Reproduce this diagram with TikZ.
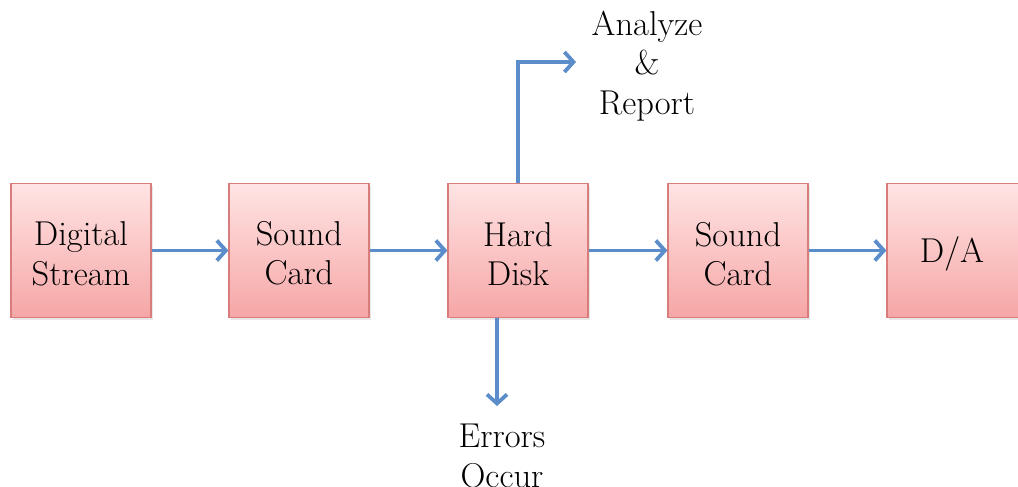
\documentclass[tikz,border=0pt]{standalone}
\usetikzlibrary{arrows.meta,shadows}
\definecolor{boxtop}{HTML}{FFE4E4}
\definecolor{boxbot}{HTML}{F6A6A6}
\definecolor{boxline}{HTML}{D87C7C}
\definecolor{arrowblue}{HTML}{5A8DC9}
\tikzset{
  blockbox/.style={rectangle, draw=boxline, line width=1.2pt, top color=boxtop, bottom color=boxbot,
    minimum width=140pt, minimum height=134pt, inner sep=0pt,
    drop shadow={opacity=0.18, shadow xshift=1.5pt, shadow yshift=-2pt}},
  flow/.style={draw=arrowblue, line width=3.8pt,
    -{Straight Barb[length=9pt, width=20pt, line width=3.8pt]}},
  lbl/.style={align=center, font=\fontsize{34.5}{39.5}\selectfont, inner sep=0pt}
}
\begin{document}
\begin{tikzpicture}[x=1pt, y=-1pt]
\useasboundingbox (0,0) rectangle (1018,487);
\clip (0,0) rectangle (1018,487);
\node[blockbox] (b1) at (81,250.5) {};
\node[blockbox] (b2) at (299,250.5) {};
\node[blockbox] (b3) at (518,250.5) {};
\node[blockbox] (b4) at (738,250.5) {};
\node[blockbox] (b5) at (957,250.5) {};
\node[lbl] (t1) at (81,254) {Digital\\Stream};
\node[lbl] (t2) at (299,253) {Sound\\Card};
\node[lbl] (t3) at (518,254) {Hard\\Disk};
\node[lbl] (t4) at (738,254) {Sound\\Card};
\node[lbl] (t5) at (952,254) {D/A};
\node[lbl] (an) at (647,66) {Analyze\\\&\\Report};
\node[lbl] (eo) at (502,456) {Errors\\Occur};
\coordinate (ua) at (576,62);
\coordinate (da) at (497,406);
\draw[flow] (b1.east) -- (b2.west);
\draw[flow] (b2.east) -- (b3.west);
\draw[flow] (b3.east) -- (b4.west);
\draw[flow] (b4.east) -- (b5.west);
\draw[flow] (b3.north) |- (ua);
\draw[flow] (da |- b3.south) -- (da);
\end{tikzpicture}
\end{document}
